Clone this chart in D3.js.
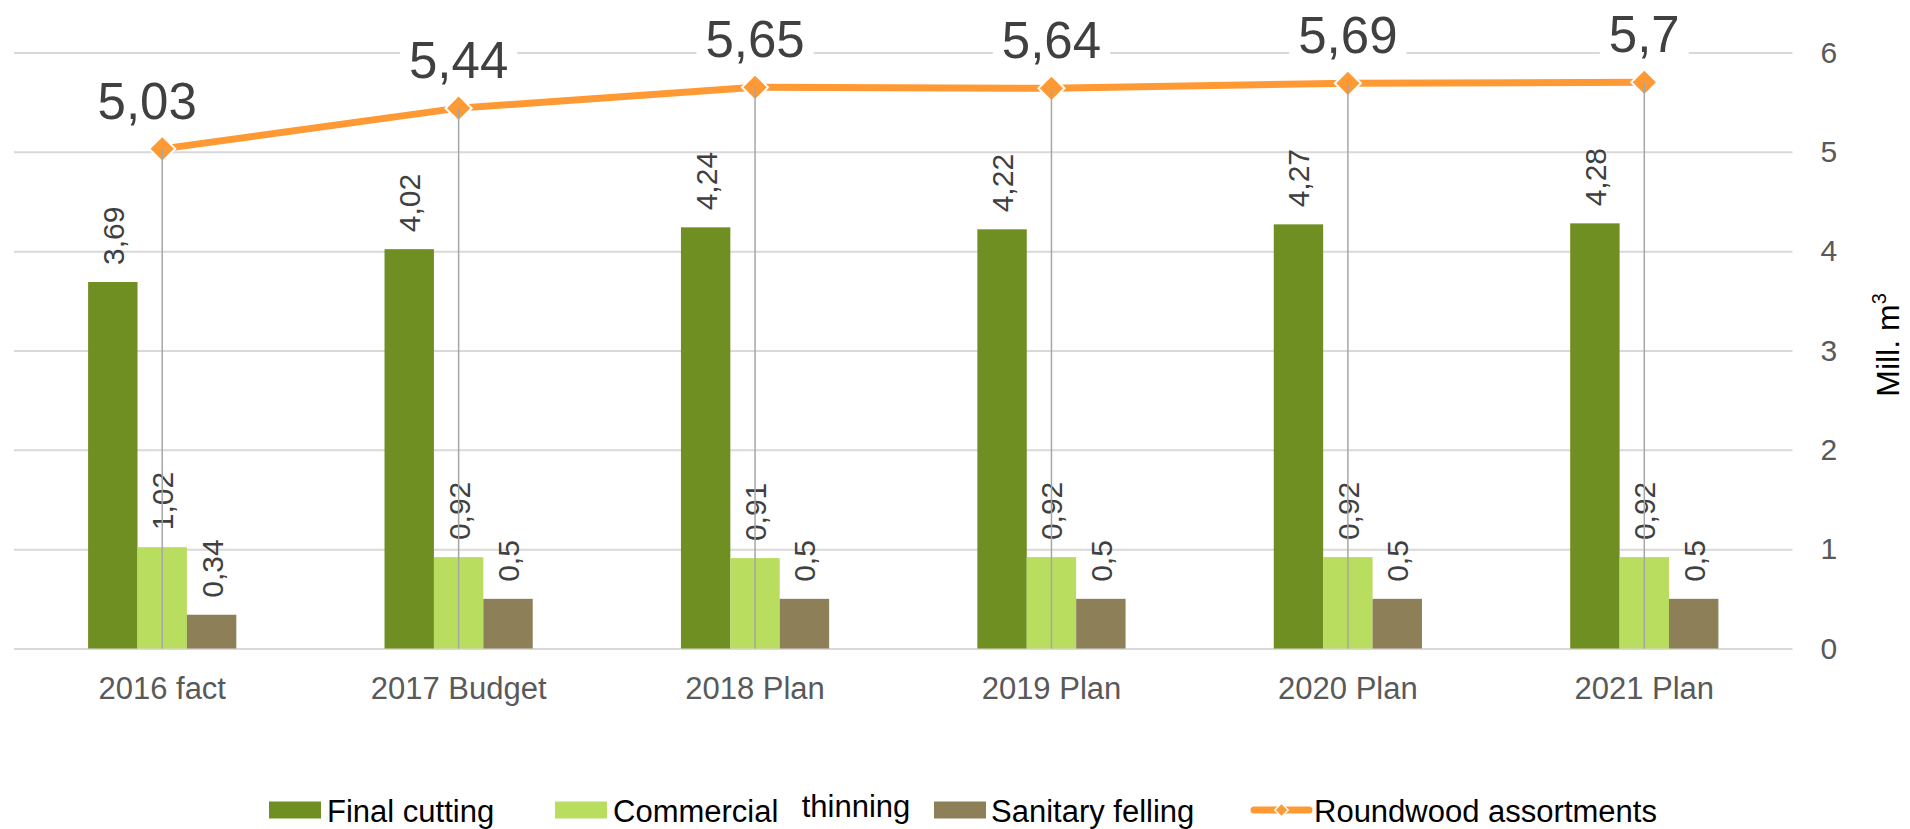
<!DOCTYPE html>
<html>
<head>
<meta charset="utf-8">
<script src="https://cdn.jsdelivr.net/npm/d3@7"></script>
<style>
  body { margin: 0; background: #fff; }
  svg { display: block; font-family: "Liberation Sans", Arial, sans-serif; }
</style>
</head>
<body>
<div id="chart"></div>
<script>
// data
const categories = ["2016 fact", "2017 Budget", "2018 Plan", "2019 Plan", "2020 Plan", "2021 Plan"];
const finalCutting = [3.69, 4.02, 4.24, 4.22, 4.27, 4.28];
const commercialThinning = [1.02, 0.92, 0.91, 0.92, 0.92, 0.92];
const sanitaryFelling = [0.34, 0.5, 0.5, 0.5, 0.5, 0.5];
const roundwood = [5.03, 5.44, 5.65, 5.64, 5.69, 5.7];
const yTicks = [0, 1, 2, 3, 4, 5, 6];

const seriesNames = ["Final cutting", "Commercial thinning", "Sanitary felling"];
const barColors = ["#708F22", "#B9DD5F", "#8D7F58"];
const lineColor = "#FF9933";

const W = 1910, H = 829;
const plot = {left: 14, right: 1792.5, top: 52.5, bottom: 648.5};

const fmt = v => String(v).replace(".", ",");

const svg = d3.select("#chart")
  .append("svg")
    .attr("width", W)
    .attr("height", H);

const x = d3.scaleBand()
  .domain(categories)
  .range([plot.left, plot.right])
  .padding(0);

const xInner = d3.scaleBand()
  .domain(seriesNames)
  .range([x.bandwidth() * 0.25, x.bandwidth() * 0.75]);

const y = d3.scaleLinear()
  .domain([0, 6])
  .range([plot.bottom, plot.top]);

// gridlines
const grid = svg.append("g")
  .attr("transform", `translate(${plot.left},0)`)
  .call(d3.axisLeft(y).tickValues(yTicks).tickSize(-(plot.right - plot.left)).tickFormat(""));
grid.select(".domain").remove();
grid.selectAll("line").attr("stroke", "#D9D9D9").attr("stroke-width", 2);

// right value axis
const yAxis = svg.append("g")
  .attr("transform", `translate(${plot.right},0)`)
  .call(d3.axisRight(y).tickValues(yTicks).tickSize(0).tickPadding(28).tickFormat(d3.format("d")));
yAxis.select(".domain").remove();
yAxis.selectAll("text")
  .attr("font-size", 30)
  .attr("fill", "#595959")
  .attr("font-family", "Liberation Sans, Arial, sans-serif");

// category axis
const xAxis = svg.append("g")
  .attr("transform", `translate(0,${plot.bottom})`)
  .call(d3.axisBottom(x).tickSize(0).tickPadding(28));
xAxis.select(".domain").remove();
xAxis.selectAll("text")
  .attr("font-size", 31)
  .attr("fill", "#595959")
  .attr("font-family", "Liberation Sans, Arial, sans-serif");

// axis title
svg.append("text")
  .attr("transform", `translate(1899,345) rotate(-90)`)
  .attr("text-anchor", "middle")
  .attr("font-size", 32)
  .attr("fill", "#000")
  .text("Mill. m")
  .append("tspan")
    .attr("font-size", 20)
    .attr("dy", -13)
    .text("3");

// bars
const barData = [];
categories.forEach((c, i) => {
  [finalCutting, commercialThinning, sanitaryFelling].forEach((arr, k) => {
    barData.push({cat: c, series: seriesNames[k], value: arr[i], color: barColors[k]});
  });
});

svg.append("g")
  .selectAll("rect")
  .data(barData)
  .join("rect")
    .attr("x", d => x(d.cat) + xInner(d.series))
    .attr("y", d => y(d.value))
    .attr("width", xInner.bandwidth())
    .attr("height", d => y(0) - y(d.value))
    .attr("fill", d => d.color);

// bar labels (rotated)
svg.append("g")
  .selectAll("text")
  .data(barData)
  .join("text")
    .attr("transform", d => `translate(${x(d.cat) + xInner(d.series) + xInner.bandwidth() / 2 + 11},${y(d.value) - 17}) rotate(-90)`)
    .attr("font-size", 30)
    .attr("fill", "#404040")
    .text(d => fmt(d.value));

// roundwood line
const cx = c => x(c) + x.bandwidth() / 2;
const linePts = categories.map((c, i) => ({cat: c, value: roundwood[i]}));

svg.append("path")
  .datum(linePts)
  .attr("fill", "none")
  .attr("stroke", lineColor)
  .attr("stroke-width", 7)
  .attr("stroke-linejoin", "round")
  .attr("d", d3.line().x(d => cx(d.cat)).y(d => y(d.value)));

// markers
svg.append("g")
  .selectAll("path")
  .data(linePts)
  .join("path")
    .attr("transform", d => `translate(${cx(d.cat)},${y(d.value)}) rotate(45)`)
    .attr("d", d3.symbol(d3.symbolSquare, 340))
    .attr("fill", lineColor)
    .attr("stroke", "#fff")
    .attr("stroke-width", 2);

// drop lines
svg.append("g")
  .selectAll("line")
  .data(linePts)
  .join("line")
    .attr("x1", d => cx(d.cat))
    .attr("x2", d => cx(d.cat))
    .attr("y1", d => y(d.value))
    .attr("y2", y(0))
    .attr("stroke", "#A6A6A6")
    .attr("stroke-width", 1.5);

// line labels with white boxes (pushed down from the top edge)
const lineLabels = svg.append("g")
  .selectAll("g")
  .data(linePts)
  .join("g")
    .attr("transform", (d, i) => `translate(${cx(d.cat) - (i === 0 ? 15 : 0)},${Math.max(y(d.value) - 30, 48)})`);

lineLabels.append("rect").attr("fill", "#fff");
lineLabels.append("text")
  .attr("text-anchor", "middle")
  .attr("font-size", 51)
  .attr("fill", "#404040")
  .text(d => fmt(d.value));
lineLabels.each(function() {
  const g = d3.select(this);
  const b = g.select("text").node().getBBox();
  g.select("rect")
    .attr("x", b.x - 9)
    .attr("y", b.y)
    .attr("width", b.width + 18)
    .attr("height", b.height);
});

// legend
const legendX = [269, 555, 934, 1252];
const legY = 810;
const legend = svg.append("g").attr("font-size", 31).attr("fill", "#000");

seriesNames.forEach((name, k) => {
  legend.append("rect")
    .attr("x", legendX[k])
    .attr("y", legY - 8.5)
    .attr("width", 52)
    .attr("height", 17)
    .attr("fill", barColors[k]);
});
legend.append("text").attr("x", legendX[0] + 58).attr("y", legY + 11.5).text("Final cutting");
const ct = legend.append("text").attr("x", legendX[1] + 58).attr("y", legY + 11.5);
ct.append("tspan").text("Commercial");
ct.append("tspan").attr("x", 801.7).attr("dy", -5).text("thinning");
legend.append("text").attr("x", legendX[2] + 57).attr("y", legY + 11.5).text("Sanitary felling");

legend.append("line")
  .attr("x1", legendX[3] + 2).attr("x2", legendX[3] + 57)
  .attr("y1", legY).attr("y2", legY)
  .attr("stroke", lineColor)
  .attr("stroke-width", 7)
  .attr("stroke-linecap", "round");
legend.append("path")
  .attr("transform", `translate(${legendX[3] + 29.5},${legY}) rotate(45)`)
  .attr("d", d3.symbol(d3.symbolSquare, 90))
  .attr("fill", lineColor)
  .attr("stroke", "#fff")
  .attr("stroke-width", 1.5);
legend.append("text").attr("x", legendX[3] + 62).attr("y", legY + 11.5).text("Roundwood assortments");
</script>
</body>
</html>
